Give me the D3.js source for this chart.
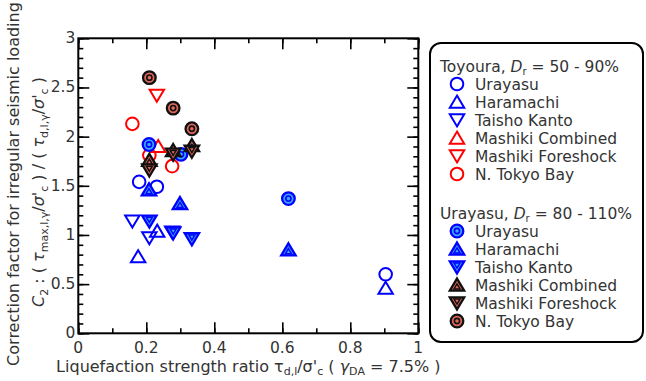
<!DOCTYPE html>
<html>
<head>
<meta charset="utf-8">
<script src="https://cdn.jsdelivr.net/npm/d3@7"></script>
<style>
  html, body { margin: 0; padding: 0; background: #fff; }
  svg { display: block; }
  text { font-family: "DejaVu Sans", "Liberation Sans", sans-serif; fill: #333; }
</style>
</head>
<body>
<svg id="chart" width="646" height="381"></svg>
<script>
// Toyoura sand, Dr = 50-90% (open markers): [strength ratio, C2]
const toyUrayasu   = [[0.179, 1.54], [0.231, 1.49], [0.904, 0.60]];
const toyHaramachi = [[0.176, 0.78], [0.232, 1.04], [0.904, 0.46]];
const toyTaisho    = [[0.159, 1.14], [0.209, 0.97], [0.276, 1.03]];
const toyMashikiC  = [[0.235, 1.90]];
const toyMashikiF  = [[0.231, 2.42]];
const toyTokyo     = [[0.159, 2.13], [0.209, 1.81], [0.276, 1.70]];

// Urayasu sand, Dr = 80-110% (double markers)
const urUrayasu    = [[0.208, 1.92], [0.302, 1.82], [0.618, 1.37]];
const urHaramachi  = [[0.208, 1.46], [0.299, 1.32], [0.618, 0.85]];
const urTaisho     = [[0.209, 1.14], [0.279, 1.02], [0.334, 0.96]];
const urMashikiC   = [[0.209, 1.76], [0.279, 1.86], [0.334, 1.91]];
const urMashikiF   = [[0.209, 1.66], [0.279, 1.82], [0.334, 1.85]];
const urTokyo      = [[0.209, 2.60], [0.279, 2.29], [0.334, 2.08]];

const legendNames = ["Urayasu", "Haramachi", "Taisho Kanto", "Mashiki Combined", "Mashiki Foreshock", "N. Tokyo Bay"];
const xTicks = [0, 0.2, 0.4, 0.6, 0.8, 1];
const yTicks = [0, 0.5, 1, 1.5, 2, 2.5, 3];

const BLUE = "#0000ff", RED = "#ff0000";
const LBLUE = "#3aa8ff", DARK = "#111", SALMON = "#e0695c";

const openSeries = [
  { data: toyUrayasu,   shape: "circle", color: BLUE },
  { data: toyHaramachi, shape: "up",     color: BLUE },
  { data: toyTaisho,    shape: "down",   color: BLUE },
  { data: toyMashikiC,  shape: "up",     color: RED },
  { data: toyMashikiF,  shape: "down",   color: RED },
  { data: toyTokyo,     shape: "circle", color: RED }
];
const denseSeries = [
  { data: urUrayasu,   shape: "circle", color: BLUE, fill: LBLUE },
  { data: urHaramachi, shape: "up",     color: BLUE, fill: LBLUE },
  { data: urTaisho,    shape: "down",   color: BLUE, fill: LBLUE },
  { data: urMashikiC,  shape: "up",     color: DARK, fill: SALMON },
  { data: urMashikiF,  shape: "down",   color: DARK, fill: SALMON },
  { data: urTokyo,     shape: "circle", color: DARK, fill: SALMON }
];

const svg = d3.select("#chart");
const x = d3.scaleLinear().domain([0, 1]).range([78.3, 418.3]);
const y = d3.scaleLinear().domain([0, 3]).range([333.3, 38.3]);

// frame ticks on all four sides, pointing inward
function tickAxis(axisGen, transform) {
  const g = svg.append("g").attr("transform", transform).call(axisGen);
  g.select(".domain").remove();
  g.selectAll("line").attr("stroke", "#000").attr("stroke-width", 1.6);
  return g;
}
const xMinor = d3.range(0, 1.0001, 0.1);
const yMinor = d3.range(0, 3.0001, 0.1);
const maj = 11, mnr = 5;
tickAxis(d3.axisTop(x).tickValues(xMinor).tickSize(mnr).tickFormat(""), `translate(0,${y(0)})`);
tickAxis(d3.axisTop(x).tickValues(xTicks).tickSize(maj).tickFormat(""), `translate(0,${y(0)})`);
tickAxis(d3.axisBottom(x).tickValues(xMinor).tickSize(mnr).tickFormat(""), `translate(0,${y(3)})`);
tickAxis(d3.axisBottom(x).tickValues(xTicks).tickSize(maj).tickFormat(""), `translate(0,${y(3)})`);
tickAxis(d3.axisRight(y).tickValues(yMinor).tickSize(mnr).tickFormat(""), `translate(${x(0)},0)`);
tickAxis(d3.axisRight(y).tickValues(yTicks).tickSize(maj).tickFormat(""), `translate(${x(0)},0)`);
tickAxis(d3.axisLeft(y).tickValues(yMinor).tickSize(mnr).tickFormat(""), `translate(${x(1)},0)`);
tickAxis(d3.axisLeft(y).tickValues(yTicks).tickSize(maj).tickFormat(""), `translate(${x(1)},0)`);

svg.append("rect")
  .attr("x", x(0)).attr("y", y(3))
  .attr("width", x(1) - x(0)).attr("height", y(0) - y(3))
  .attr("fill", "none").attr("stroke", "#000").attr("stroke-width", 2);

// tick labels
svg.append("g").selectAll("text").data(xTicks).join("text")
  .attr("x", d => x(d)).attr("y", y(0) + 20)
  .attr("text-anchor", "middle").attr("font-size", 15.5)
  .text(d => d3.format("~g")(d));
svg.append("g").selectAll("text").data(yTicks).join("text")
  .attr("x", x(0) - 3).attr("y", d => y(d) + 5)
  .attr("text-anchor", "end").attr("font-size", 15.5)
  .text(d => d3.format("~g")(d));

// axis titles
const xl = svg.append("text").attr("x", (x(0) + x(1)) / 2).attr("y", 372)
  .attr("text-anchor", "middle").attr("font-size", 16);
xl.append("tspan").text("Liquefaction strength ratio   τ");
xl.append("tspan").attr("font-size", 11).attr("dy", 3).text("d,l");
xl.append("tspan").attr("dy", -3).text("/σ'");
xl.append("tspan").attr("font-size", 11).attr("dy", 3).text("c");
xl.append("tspan").attr("dy", -3).text(" ( ");
xl.append("tspan").attr("font-style", "italic").text("γ");
xl.append("tspan").attr("font-size", 11).attr("dy", 3).text("DA");
xl.append("tspan").attr("dy", -3).text(" = 7.5% )");

const yMid = 184;
svg.append("text").attr("transform", `translate(19,${yMid}) rotate(-90)`)
  .attr("text-anchor", "middle").attr("font-size", 16)
  .text("Correction factor for irregular seismic loading");
const yl = svg.append("text").attr("transform", `translate(44,${yMid + 8}) rotate(-90)`)
  .attr("text-anchor", "middle").attr("font-size", 16);
yl.append("tspan").attr("font-style", "italic").text("C");
yl.append("tspan").attr("font-size", 11).attr("dy", 4).text("2");
yl.append("tspan").attr("dy", -4).text(" : ( ");
yl.append("tspan").attr("font-style", "italic").text("τ");
yl.append("tspan").attr("font-size", 11).attr("dy", 4).text("max,l,γ");
yl.append("tspan").attr("dy", -4).text("/");
yl.append("tspan").attr("font-style", "italic").text("σ'");
yl.append("tspan").attr("font-size", 11).attr("dy", 4).text("c");
yl.append("tspan").attr("dy", -4).text(" ) / ( ");
yl.append("tspan").attr("font-style", "italic").text("τ");
yl.append("tspan").attr("font-size", 11).attr("dy", 4).text("d,l,γ");
yl.append("tspan").attr("dy", -4).text("/");
yl.append("tspan").attr("font-style", "italic").text("σ'");
yl.append("tspan").attr("font-size", 11).attr("dy", 4).text("c");
yl.append("tspan").attr("dy", -4).text(" )");

// marker drawing
function triPath(s, dir) {
  const h = 7 * s, w = 7.2 * s;
  return dir === "up"
    ? `M0,${-h}L${w},${h * 0.72}L${-w},${h * 0.72}Z`
    : `M0,${h}L${w},${-h * 0.72}L${-w},${-h * 0.72}Z`;
}
function drawMarker(g, shape, color, fill, dense) {
  if (shape === "circle") {
    g.append("circle").attr("r", 6.3).attr("fill", dense ? fill : "none")
      .attr("stroke", color).attr("stroke-width", dense ? 2.3 : 2);
    if (dense) g.append("circle").attr("r", 2.6).attr("fill", fill)
      .attr("stroke", color).attr("stroke-width", 1.6);
  } else {
    const off = shape === "up" ? 0.6 : -0.6;
    g.append("path").attr("d", triPath(1, shape)).attr("transform", `translate(0,${off})`)
      .attr("fill", dense ? fill : "none").attr("stroke", color)
      .attr("stroke-width", dense ? 2.3 : 2).attr("stroke-linejoin", "miter");
    if (dense) g.append("path").attr("d", triPath(0.42, shape))
      .attr("transform", `translate(0,${off + (shape === "up" ? 1.2 : -1.2)})`)
      .attr("fill", fill).attr("stroke", color).attr("stroke-width", 1.5);
  }
}

const pts = svg.append("g");
openSeries.forEach(s => s.data.forEach(d => {
  drawMarker(pts.append("g").attr("transform", `translate(${x(d[0])},${y(d[1])})`), s.shape, s.color, null, false);
}));
denseSeries.forEach(s => s.data.forEach(d => {
  drawMarker(pts.append("g").attr("transform", `translate(${x(d[0])},${y(d[1])})`), s.shape, s.color, s.fill, true);
}));

// legend
svg.append("rect").attr("x", 430).attr("y", 43).attr("width", 213).attr("height", 299)
  .attr("rx", 11).attr("fill", "#fff").attr("stroke", "#000").attr("stroke-width", 2);

function legendGroup(title, mat, top, series, dense) {
  const t = svg.append("text").attr("x", 440).attr("y", top).attr("font-size", 15.5);
  t.append("tspan").text(title + ", ");
  t.append("tspan").attr("font-style", "italic").text("D");
  t.append("tspan").attr("font-size", 10).attr("dy", 3).text("r");
  t.append("tspan").attr("dy", -3).text(" = " + mat);
  series.forEach((s, i) => {
    const cy = top + 12 + i * 18;
    drawMarker(svg.append("g").attr("transform", `translate(457,${cy})`), s.shape, s.color, s.fill, dense);
    svg.append("text").attr("x", 475).attr("y", cy + 5.5).attr("font-size", 15.5).text(legendNames[i]);
  });
}
legendGroup("Toyoura", "50 - 90%", 72, openSeries, false);
legendGroup("Urayasu", "80 - 110%", 219, denseSeries, true);
</script>
</body>
</html>
